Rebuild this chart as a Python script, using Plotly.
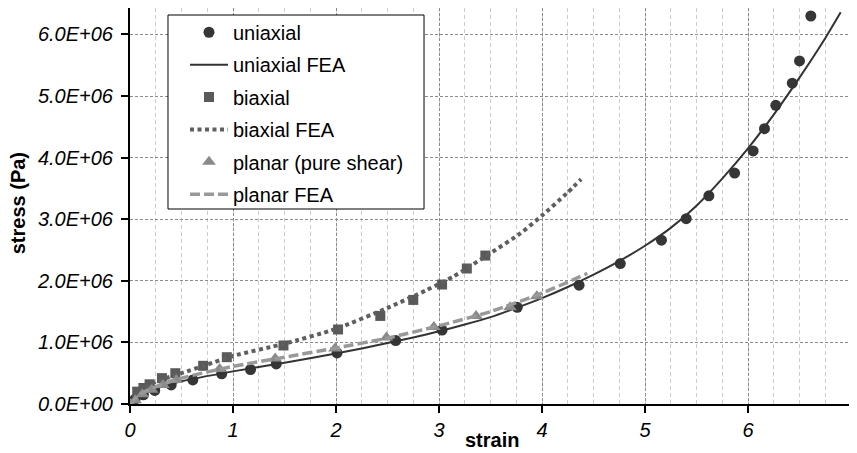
import plotly.graph_objects as go

# ---------------- data ----------------
uni_x = [0, 0.05, 0.13, 0.24, 0.40, 0.61, 0.89, 1.17, 1.42, 2.01, 2.58, 3.03, 3.76,
         4.36, 4.76, 5.16, 5.40, 5.62, 5.87, 6.05, 6.16, 6.27, 6.43, 6.50, 6.61]
uni_y = [0, 0.08e6, 0.15e6, 0.22e6, 0.31e6, 0.39e6, 0.49e6, 0.56e6, 0.65e6, 0.83e6,
         1.03e6, 1.20e6, 1.57e6, 1.93e6, 2.28e6, 2.66e6, 3.01e6, 3.38e6, 3.75e6,
         4.11e6, 4.47e6, 4.85e6, 5.21e6, 5.57e6, 6.30e6]

uni_fea_x = [0, 0.1, 0.25, 0.5, 1.0, 1.5, 2.0, 2.25, 2.5, 2.75, 3.0, 3.25, 3.5, 3.75,
             4.0, 4.25, 4.5, 4.75, 5.0, 5.25, 5.5, 5.75, 6.0, 6.25, 6.5, 6.75, 6.9]
uni_fea_y = [0, 0.13e6, 0.25e6, 0.37e6, 0.53e6, 0.67e6, 0.82e6, 0.90e6, 0.99e6,
             1.08e6, 1.18e6, 1.29e6, 1.41e6, 1.56e6, 1.72e6, 1.90e6, 2.10e6, 2.32e6,
             2.57e6, 2.86e6, 3.22e6, 3.66e6, 4.15e6, 4.70e6, 5.30e6, 5.94e6, 6.36e6]

bi_x = [0, 0.07, 0.13, 0.19, 0.31, 0.44, 0.71, 0.94, 1.49, 2.02, 2.43, 2.75, 3.03,
        3.27, 3.45]
bi_y = [0, 0.20e6, 0.26e6, 0.32e6, 0.42e6, 0.50e6, 0.62e6, 0.76e6, 0.95e6, 1.21e6,
        1.43e6, 1.69e6, 1.94e6, 2.20e6, 2.41e6]

bi_fea_x = [0, 0.1, 0.25, 0.5, 0.75, 1.0, 1.5, 2.0, 2.5, 2.88, 3.14, 3.5, 3.79, 4.0,
            4.24, 4.38]
bi_fea_y = [0, 0.20e6, 0.36e6, 0.50e6, 0.64e6, 0.78e6, 0.98e6, 1.22e6, 1.56e6,
            1.85e6, 2.07e6, 2.45e6, 2.77e6, 3.06e6, 3.42e6, 3.65e6]

pl_x = [0, 0.05, 0.12, 0.21, 0.32, 0.45, 0.87, 1.41, 1.99, 2.49, 2.95, 3.36, 3.69, 3.95]
pl_y = [0, 0.06e6, 0.16e6, 0.23e6, 0.31e6, 0.39e6, 0.57e6, 0.74e6, 0.90e6, 1.08e6,
        1.25e6, 1.43e6, 1.57e6, 1.75e6]

pl_fea_x = [0, 0.1, 0.25, 0.5, 1.0, 1.5, 2.0, 2.5, 3.0, 3.5, 4.0, 4.44]
pl_fea_y = [0, 0.16e6, 0.28e6, 0.42e6, 0.61e6, 0.76e6, 0.91e6, 1.07e6, 1.27e6,
            1.50e6, 1.80e6, 2.12e6]

x_ticks = [0, 1, 2, 3, 4, 5, 6, 7]
y_ticks = [0, 1e6, 2e6, 3e6, 4e6, 5e6, 6e6]
y_tick_labels = ["0.0E+00", "1.0E+06", "2.0E+06", "3.0E+06", "4.0E+06",
                 "5.0E+06", "6.0E+06"]

FONT = "Liberation Sans, Arial, sans-serif"

fig = go.Figure()
fig.add_trace(go.Scatter(x=uni_x, y=uni_y, mode="markers", name="uniaxial",
                         legendgroup="g1",
                         marker=dict(symbol="circle", size=11, color="#363636")))
fig.add_trace(go.Scatter(x=uni_fea_x, y=uni_fea_y, mode="lines", name="uniaxial FEA",
                         legendgroup="g2",
                         line=dict(color="#333333", width=2, shape="spline", smoothing=0.5)))
fig.add_trace(go.Scatter(x=bi_x, y=bi_y, mode="markers", name="biaxial",
                         legendgroup="g3",
                         marker=dict(symbol="square", size=10, color="#5a5a5a")))
fig.add_trace(go.Scatter(x=bi_fea_x, y=bi_fea_y, mode="lines", name="biaxial FEA",
                         legendgroup="g4",
                         line=dict(color="#5f5f5f", width=4, dash="4px,3.5px",
                                   shape="spline", smoothing=0.6)))
fig.add_trace(go.Scatter(x=pl_x, y=pl_y, mode="markers", name="planar (pure shear)",
                         legendgroup="g5",
                         marker=dict(symbol="triangle-up", size=12, color="#8a8a8a")))
fig.add_trace(go.Scatter(x=pl_fea_x, y=pl_fea_y, mode="lines", name="planar FEA",
                         legendgroup="g6",
                         line=dict(color="#999999", width=3.5, dash="10px,4px",
                                   shape="spline", smoothing=0.6)))

# The page body has an 8px margin, so the figure is sized to fit inside it.
fig.update_layout(
    width=849, height=445,
    margin=dict(l=122, r=6, t=0, b=49),
    paper_bgcolor="white", plot_bgcolor="white",
    font=dict(family=FONT, size=20, color="black"),
    showlegend=True,
    legend=dict(x=0.0527, y=0.988, xanchor="left", yanchor="top",
                bgcolor="rgba(0,0,0,0)", borderwidth=0,
                font=dict(family=FONT, size=20, color="black"),
                traceorder="grouped", tracegroupgap=3.4, indentation=17,
                itemwidth=38),
    shapes=[dict(type="rect", xref="paper", yref="paper",
                 x0=0.0527, x1=0.4078, y0=0.4924, y1=0.9823,
                 fillcolor="white", line=dict(color="black", width=1),
                 layer="above")],
    xaxis=dict(range=[0, 7], tickvals=x_ticks, ticks="outside", ticklen=7,
               tickwidth=2, tickcolor="black", showline=True, linewidth=2,
               linecolor="black", zeroline=False,
               tickfont=dict(family=FONT, size=20, style="italic"),
               showgrid=True, gridcolor="#8c8c8c", gridwidth=1, griddash="3px,2px",
               minor=dict(dtick=0.25, showgrid=True, gridcolor="#cccccc",
                          griddash="4px,3px", gridwidth=1, ticks="")),
    yaxis=dict(range=[0, 6.43e6], tickvals=y_ticks, ticktext=y_tick_labels,
               ticks="outside", ticklen=7, tickwidth=2, tickcolor="black",
               showline=True, linewidth=2, linecolor="black", zeroline=False,
               ticklabelstandoff=4,
               tickfont=dict(family=FONT, size=20, style="italic"),
               showgrid=True, gridcolor="#8c8c8c", gridwidth=1, griddash="3px,2px"),
    annotations=[
        dict(text="<b>strain</b>", xref="paper", yref="paper", x=0.502, y=-0.0909,
             xanchor="center", yanchor="middle", showarrow=False,
             font=dict(family=FONT, size=20)),
        dict(text="<b>stress (Pa)</b>", xref="paper", yref="paper", x=-0.1553,
             y=0.507, xanchor="center", yanchor="middle", textangle=-90,
             showarrow=False, font=dict(family=FONT, size=20)),
    ],
)

fig.write_html("out.html")
